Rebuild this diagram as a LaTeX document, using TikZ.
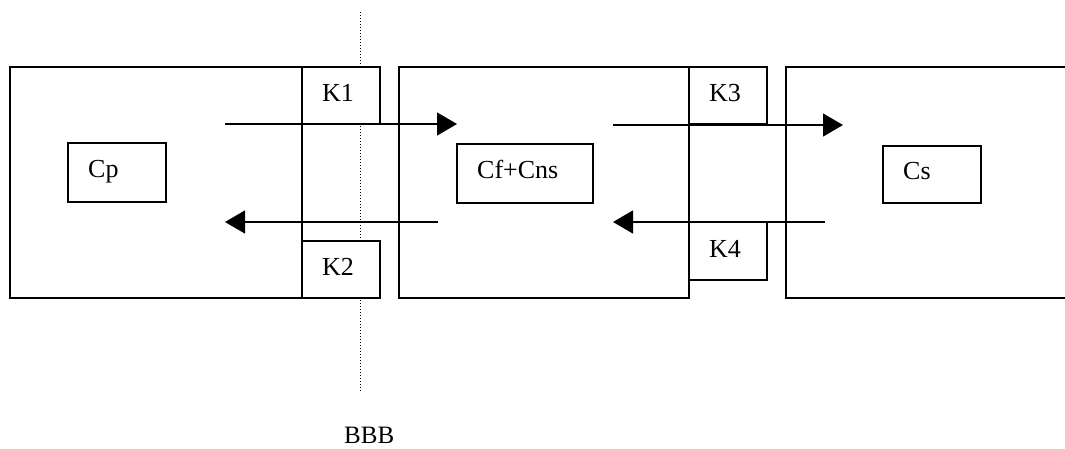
\documentclass[tikz,border=0pt]{standalone}
\usepackage{fontspec}
\setmainfont{Liberation Serif}
\usetikzlibrary{arrows.meta}
\tikzset{
  boxline/.style={line width=1.3pt, line join=miter},
  kbox/.style={boxline, fill=white},
  flow/.style={line width=1.3pt, -{Triangle[length=20pt,width=23pt]}},
  lbl/.style={anchor=base west, inner sep=0pt, font=\fontsize{26}{30}\selectfont},
  divider/.style={line width=1pt, dotted}
}
\begin{document}
\begin{tikzpicture}[x=1pt,y=-1pt]
\useasboundingbox (0,0) rectangle (1065,448);
% boundary line
\coordinate (dTop) at (360,12);
\coordinate (dBot) at (360,392);
\draw[divider] (dTop) -- (dBot);
% compartment 1
\draw[boxline] (10,67) rectangle (302,298);
\draw[kbox] (302,67) rectangle (380,124);
\draw[kbox] (302,241) rectangle (380,298);
% compartment 2
\draw[boxline] (399,67) rectangle (689,298);
\draw[kbox] (689,67) rectangle (767,124);
\draw[kbox] (689,222) rectangle (767,280);
% compartment 3 (open on the right)
\draw[boxline] (1066,67) -- (786,67) -- (786,298) -- (1066,298);
% inner boxes
\draw[boxline] (68,143) rectangle (166,202);
\draw[boxline] (457,144) rectangle (593,203);
\draw[boxline] (883,146) rectangle (981,203);
% labels
\node[lbl] (k1) at (322,101) {K1};
\node[lbl] (k2) at (322,275) {K2};
\node[lbl] (k3) at (709,101) {K3};
\node[lbl] (k4) at (709,257) {K4};
\node[lbl] (cp) at (88,177) {Cp};
\node[lbl] (cf) at (477,178) {Cf+Cns};
\node[lbl] (cs) at (903,179) {Cs};
\node[lbl, font=\fontsize{25}{30}\selectfont] (bbb) at (344,443) {BBB};
% arrows
\coordinate (a1s) at (225,124);
\coordinate (a1e) at (457,124);
\coordinate (b1s) at (438,222);
\coordinate (b1e) at (225,222);
\coordinate (a2s) at (613,125);
\coordinate (a2e) at (843,125);
\coordinate (b2s) at (825,222);
\coordinate (b2e) at (613,222);
\draw[flow] (a1s) -- (a1e);
\draw[flow] (b1s) -- (b1e);
\draw[flow] (a2s) -- (a2e);
\draw[flow] (b2s) -- (b2e);
\end{tikzpicture}
\end{document}
